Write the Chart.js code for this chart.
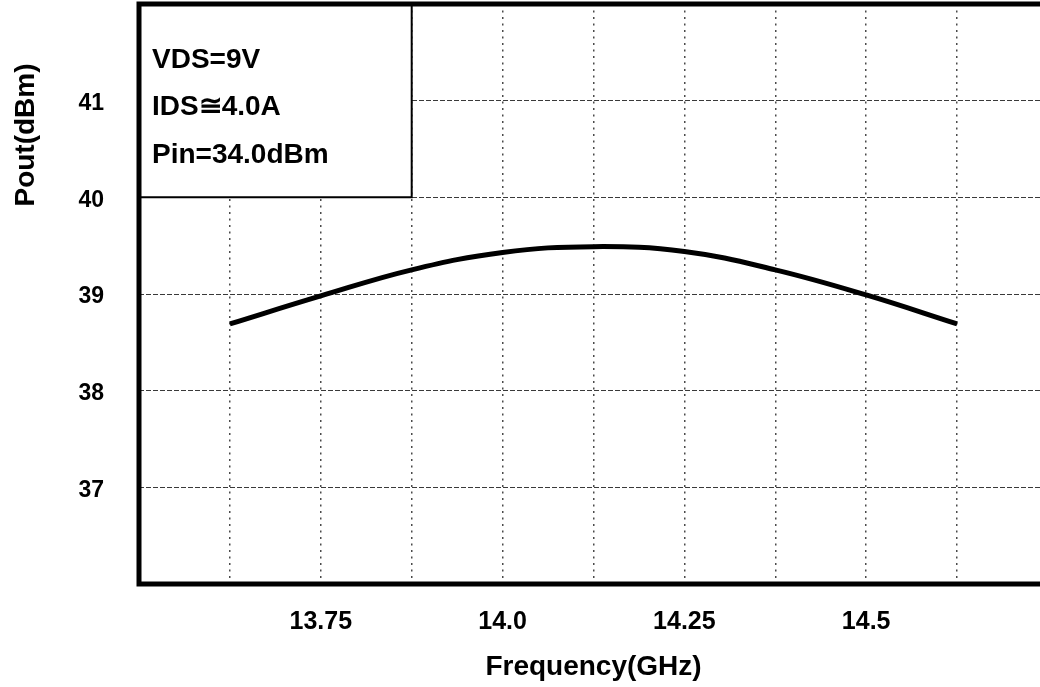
<!DOCTYPE html>
<html>
<head>
<meta charset="utf-8">
<script src="https://cdn.jsdelivr.net/npm/chart.js@4.4.1/dist/chart.umd.min.js"></script>
<style>
  html, body { margin: 0; padding: 0; background: #fff; overflow: hidden; }
  #wrap { position: relative; width: 1048px; height: 687px; }
</style>
</head>
<body>
<div id="wrap"><canvas id="poutChart"></canvas></div>
<script>
// Frequency sweep (GHz) and measured output power (dBm)
const freqs = [13.625, 13.75, 13.875, 14.0, 14.125, 14.25, 14.375, 14.5, 14.625];
const pout = [38.69, 38.98, 39.25, 39.43, 39.49, 39.44, 39.25, 38.99, 38.69];

// Axis settings
const xLabels = [13.75, 14.0, 14.25, 14.5];
const yLabels = [37, 38, 39, 40, 41];
const conditions = ["VDS=9V", "IDS\u22454.0A", "Pin=34.0dBm"];

const FONT = "'Liberation Sans', Arial, sans-serif";

// Draws the condition box, the y title and the heavy frame
const framePlugin = {
  id: "frame",
  afterDraw(chart) {
    const { ctx, chartArea: area, scales } = chart;
    const boxRight = scales.x.getPixelForValue(13.875);
    const boxBottom = scales.y.getPixelForValue(40);

    ctx.save();
    ctx.fillStyle = "#fff";
    ctx.fillRect(area.left, area.top, boxRight - area.left, boxBottom - area.top);
    ctx.strokeStyle = "#000";
    ctx.lineWidth = 2;
    ctx.beginPath();
    ctx.moveTo(boxRight, area.top);
    ctx.lineTo(boxRight, boxBottom);
    ctx.lineTo(area.left, boxBottom);
    ctx.stroke();

    ctx.fillStyle = "#000";
    ctx.font = `bold 28px ${FONT}`;
    ctx.textBaseline = "middle";
    ctx.textAlign = "left";
    conditions.forEach((line, i) => {
      ctx.fillText(line, area.left + 13, 60 + i * 47.5);
    });

    // y axis title sits high, not centred on the axis
    ctx.translate(26, 135);
    ctx.rotate(-Math.PI / 2);
    ctx.textAlign = "center";
    ctx.font = `bold 28px ${FONT}`;
    ctx.fillText("Pout(dBm)", 0, 0);
    ctx.restore();

    ctx.save();
    ctx.strokeStyle = "#000";
    ctx.lineWidth = 5;
    ctx.strokeRect(area.left, area.top, area.right - area.left, area.bottom - area.top);
    ctx.restore();
  },
};

const ctx = document.getElementById("poutChart");
new Chart(ctx, {
  type: "line",
  data: {
    datasets: [
      {
        data: freqs.map((f, i) => ({ x: f, y: pout[i] })),
        borderColor: "#000",
        borderWidth: 5,
        pointRadius: 0,
        tension: 0.4,
        fill: false,
      },
    ],
  },
  options: {
    responsive: true,
    maintainAspectRatio: false,
    animation: false,
    layout: { padding: { top: 4, right: 0, bottom: 0, left: 0 } },
    plugins: {
      legend: { display: false },
      tooltip: { enabled: false },
    },
    scales: {
      x: {
        type: "linear",
        min: 13.5,
        max: 14.75,
        afterBuildTicks: (scale) => {
          const ticks = [];
          for (let k = 1; k < 10; k++) ticks.push({ value: 13.5 + k * 0.125 });
          scale.ticks = ticks;
        },
        afterFit: (scale) => {
          scale.height = 103;
          scale.paddingLeft = 0;
          scale.paddingRight = 0;
        },
        ticks: {
          autoSkip: false,
          maxRotation: 0,
          padding: 23,
          color: "#000",
          font: { family: FONT, size: 25, weight: "bold" },
          callback: (value) => {
            const hit = xLabels.find((v) => Math.abs(v - value) < 1e-6);
            if (hit === undefined) return "";
            return hit === 14 ? "14.0" : String(hit);
          },
        },
        grid: { color: "#4a4a4a", lineWidth: 1.5, drawTicks: false },
        border: { display: false, dash: [2, 4.5] },
        title: {
          display: true,
          text: "Frequency(GHz)",
          color: "#000",
          font: { family: FONT, size: 28, weight: "bold" },
          padding: { top: 0, bottom: 3 },
        },
      },
      y: {
        min: 36,
        max: 42,
        afterBuildTicks: (scale) => {
          scale.ticks = yLabels.map((v) => ({ value: v }));
        },
        afterFit: (scale) => {
          scale.width = 139;
          scale.paddingTop = 0;
          scale.paddingBottom = 0;
        },
        ticks: {
          padding: 35,
          labelOffset: 3,
          color: "#000",
          font: { family: FONT, size: 23, weight: "bold" },
        },
        grid: { color: "#3a3a3a", lineWidth: 1, drawTicks: false },
        border: { display: false, dash: [5, 2] },
      },
    },
  },
  plugins: [framePlugin],
});
</script>
</body>
</html>
